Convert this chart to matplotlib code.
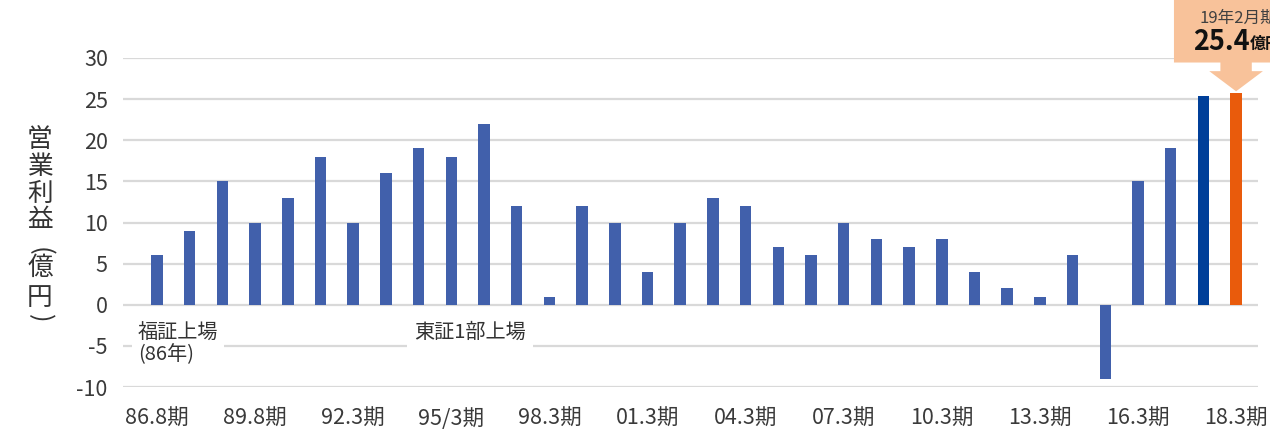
import matplotlib
matplotlib.use("Agg")
import matplotlib.pyplot as plt
from matplotlib.patches import Polygon
import numpy as np

plt.rcParams['font.family'] = ['Noto Sans CJK JP', 'DejaVu Sans']

# ---- data ----
periods = ["86.8期", "", "", "89.8期", "", "", "92.3期", "", "", "95/3期", "", "",
           "98.3期", "", "", "01.3期", "", "", "04.3期", "", "", "07.3期", "", "",
           "10.3期", "", "", "13.3期", "", "", "16.3期", "", "", "18.3期"]
profit = [6, 9, 15, 10, 13, 18, 10, 16, 19, 18, 22, 12, 1, 12, 10, 4, 10, 13,
          12, 7, 6, 10, 8, 7, 8, 4, 2, 1, 6, -9, 15, 19, 25.4, 25.8]
yticks = [-10, -5, 0, 5, 10, 15, 20, 25, 30]
ylabel_chars = ["営", "業", "利", "益", "(", "億", "円", ")"]

base_color = "#4160ab"
navy = "#003f99"
orange = "#e95b0c"
colors = [base_color] * len(profit)
colors[-2] = navy
colors[-1] = orange

W, H = 1270, 430
fig = plt.figure(figsize=(12.7, 4.3), dpi=100)
ax = fig.add_axes([123 / W, 1 - 387 / H, (1258 - 123) / W, (387 - 58) / H])

x = np.arange(len(profit))
ax.bar(x, profit, width=0.35, color=colors, zorder=3)

ax.set_xlim(-1.04, len(profit) - 1 + 0.67)
ax.set_ylim(-10, 30)
ax.set_yticks(yticks)
ax.set_yticklabels([str(v) for v in yticks])
ax.set_xticks(x)
ax.set_xticklabels(periods)
ax.tick_params(axis='both', length=0, labelsize=15.5, colors="#3a3a3a")
ax.tick_params(axis='y', pad=11)
ax.tick_params(axis='x', pad=15)
for s in ax.spines.values():
    s.set_visible(False)
ax.yaxis.grid(True, color="#d9d9d9", linewidth=1.6, zorder=0)
ax.set_axisbelow(True)

# y-axis label (vertical writing, parentheses turned)
char_y = [140, 167, 194, 220, 251, 268, 298, 318]
for ch, py in zip(ylabel_chars, char_y):
    rot = -90 if ch in "()" else 0
    fig.text(40 / W, 1 - py / H, ch, ha="center", va="center", fontsize=18.5,
             color="#333333", rotation=rot)

# annotations
ax.text(-0.58, -4.8, "福証上場\n(86年)", fontsize=14.5, color="#333333", ha="left", va="center",
        linespacing=1.0, zorder=4,
        bbox=dict(facecolor="white", edgecolor="none", pad=4))
ax.text(9.57, -3.3, "東証1部上場", fontsize=14.5, color="#333333", ha="center", va="center",
        zorder=4, bbox=dict(facecolor="white", edgecolor="none", pad=5))

# callout for latest period
xi = len(profit) - 1
peach = "#f8c29a"
box = Polygon([(xi - 1.9, 37.5), (xi - 1.9, 29.45), (xi - 0.48, 29.45), (xi - 0.48, 28.4),
               (xi - 0.82, 28.4), (xi, 25.95), (xi + 0.82, 28.4), (xi + 0.48, 28.4),
               (xi + 0.48, 29.45), (xi + 3.0, 29.45), (xi + 3.0, 37.5)],
              closed=True, facecolor=peach, edgecolor="none", clip_on=False, zorder=5)
ax.add_patch(box)
ax.text(xi - 1.12, 34.8, "19年2月期", fontsize=12, color="#404040", ha="left", va="center",
        clip_on=False, zorder=6)
ax.text(xi - 1.33, 32.0, "25.4", fontsize=19.5, fontweight="bold", color="#111111", ha="left",
        va="center", clip_on=False, zorder=6)
ax.text(xi + 0.43, 31.7, "億円", fontsize=11.5, fontweight="bold", color="#111111", ha="left",
        va="center", clip_on=False, zorder=6)

fig.savefig("out.png", dpi=100)
